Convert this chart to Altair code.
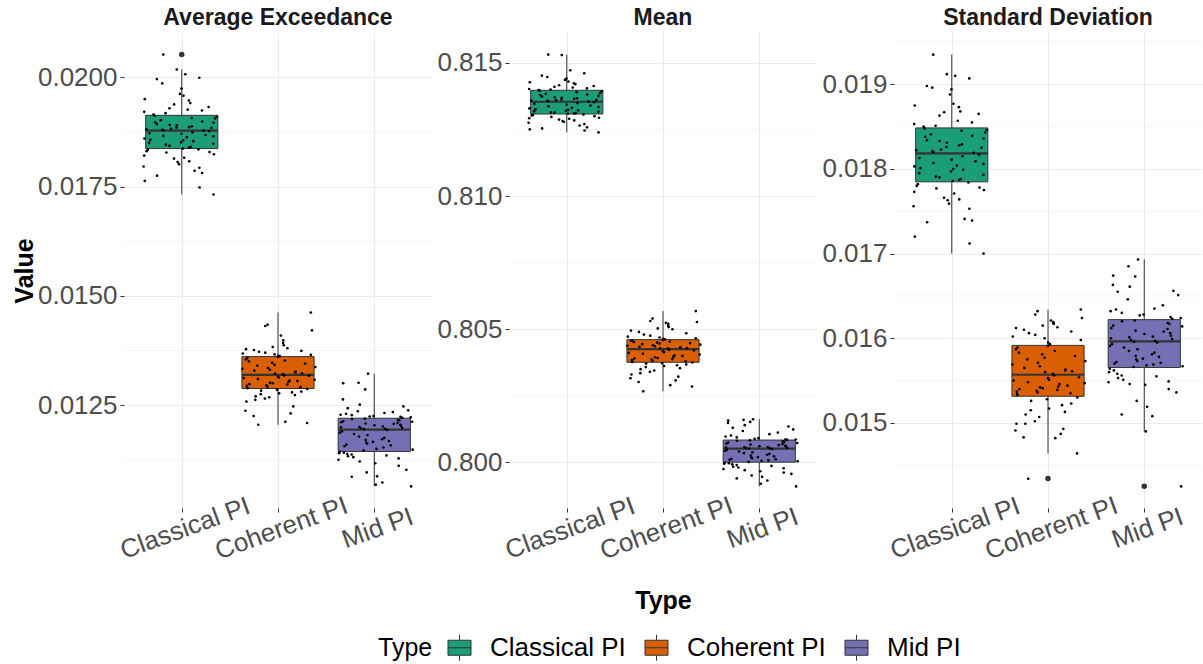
import altair as alt
import pandas as pd

TYPES = ["Classical PI", "Coherent PI", "Mid PI"]
COLORS = ["#1B9E77", "#D95F02", "#7570B3"]
FONT = "Liberation Sans"

# ---------------- Average Exceedance ----------------
AE_LOWER = [0.01732, 0.01205, 0.01064]
AE_Q1 = [0.01837, 0.01288, 0.01144]
AE_MED = [0.01878, 0.01319, 0.01194]
AE_Q3 = [0.01913, 0.01361, 0.01220]
AE_UPPER = [0.02018, 0.01462, 0.01322]
AE_OUTLIERS = [[0.02052], [], []]
AE_CL = [0.02052, 0.02018, 0.02007, 0.01999, 0.01996, 0.01986, 0.01974, 0.01962, 0.01958, 0.01950,
         0.01947, 0.01941, 0.01938, 0.01932, 0.01929, 0.01926, 0.01924, 0.01921, 0.01918, 0.01915,
         0.01912, 0.01910, 0.01907, 0.01906, 0.01902, 0.01899, 0.01897, 0.01896, 0.01893, 0.01891,
         0.01890, 0.01888, 0.01886, 0.01885, 0.01884, 0.01882, 0.01881, 0.01880, 0.01879, 0.01878,
         0.01877, 0.01874, 0.01872, 0.01871, 0.01868, 0.01866, 0.01865, 0.01863, 0.01860, 0.01857,
         0.01856, 0.01854, 0.01851, 0.01850, 0.01848, 0.01846, 0.01843, 0.01841, 0.01839, 0.01837,
         0.01835, 0.01834, 0.01831, 0.01829, 0.01828, 0.01824, 0.01821, 0.01816, 0.01814, 0.01808,
         0.01806, 0.01801, 0.01796, 0.01793, 0.01786, 0.01781, 0.01775, 0.01763, 0.01748, 0.01732]
AE_CO = [0.01462, 0.01434, 0.01431, 0.01421, 0.01409, 0.01398, 0.01392, 0.01387, 0.01383, 0.01380,
         0.01378, 0.01376, 0.01374, 0.01372, 0.01370, 0.01368, 0.01366, 0.01365, 0.01363, 0.01362,
         0.01360, 0.01358, 0.01355, 0.01352, 0.01350, 0.01347, 0.01345, 0.01342, 0.01340, 0.01337,
         0.01335, 0.01333, 0.01331, 0.01329, 0.01327, 0.01325, 0.01323, 0.01322, 0.01321, 0.01319,
         0.01318, 0.01317, 0.01315, 0.01313, 0.01312, 0.01310, 0.01308, 0.01306, 0.01305, 0.01303,
         0.01301, 0.01300, 0.01298, 0.01297, 0.01295, 0.01294, 0.01292, 0.01291, 0.01290, 0.01289,
         0.01287, 0.01285, 0.01283, 0.01281, 0.01279, 0.01277, 0.01275, 0.01273, 0.01270, 0.01268,
         0.01265, 0.01262, 0.01258, 0.01247, 0.01237, 0.01231, 0.01225, 0.01212, 0.01209, 0.01205]
AE_MI = [0.01322, 0.01301, 0.01300, 0.01286, 0.01263, 0.01251, 0.01247, 0.01243, 0.01238, 0.01236,
         0.01234, 0.01232, 0.01230, 0.01228, 0.01227, 0.01225, 0.01224, 0.01223, 0.01222, 0.01221,
         0.01219, 0.01218, 0.01216, 0.01215, 0.01213, 0.01212, 0.01211, 0.01209, 0.01208, 0.01207,
         0.01205, 0.01204, 0.01203, 0.01201, 0.01200, 0.01199, 0.01198, 0.01197, 0.01196, 0.01195,
         0.01193, 0.01190, 0.01187, 0.01184, 0.01181, 0.01178, 0.01175, 0.01172, 0.01170, 0.01168,
         0.01166, 0.01164, 0.01162, 0.01160, 0.01158, 0.01156, 0.01153, 0.01150, 0.01148, 0.01146,
         0.01143, 0.01141, 0.01140, 0.01138, 0.01137, 0.01135, 0.01133, 0.01131, 0.01128, 0.01125,
         0.01121, 0.01117, 0.01111, 0.01102, 0.01096, 0.01087, 0.01086, 0.01073, 0.01068, 0.01064]
AE_MAJOR = [0.0125, 0.015, 0.0175, 0.02]
AE_MINOR = [0.01125, 0.01375, 0.01625, 0.01875]

# ---------------- Mean ----------------
MN_LOWER = [0.81239, 0.80267, 0.79910]
MN_Q1 = [0.81308, 0.80376, 0.80001]
MN_MED = [0.81354, 0.80425, 0.80052]
MN_Q3 = [0.81397, 0.80461, 0.80084]
MN_UPPER = [0.81531, 0.80568, 0.80162]
MN_OUTLIERS = [[], [], []]
MN_CL = [0.81531, 0.81529, 0.81472, 0.81461, 0.81452, 0.81447, 0.81441, 0.81436, 0.81430, 0.81427,
         0.81423, 0.81420, 0.81416, 0.81413, 0.81410, 0.81407, 0.81404, 0.81402, 0.81400, 0.81398,
         0.81396, 0.81393, 0.81390, 0.81387, 0.81384, 0.81381, 0.81379, 0.81376, 0.81373, 0.81371,
         0.81369, 0.81367, 0.81365, 0.81363, 0.81361, 0.81360, 0.81358, 0.81357, 0.81356, 0.81355,
         0.81352, 0.81349, 0.81346, 0.81343, 0.81340, 0.81337, 0.81334, 0.81331, 0.81329, 0.81326,
         0.81324, 0.81322, 0.81320, 0.81318, 0.81316, 0.81314, 0.81313, 0.81311, 0.81310, 0.81309,
         0.81306, 0.81304, 0.81302, 0.81300, 0.81297, 0.81294, 0.81292, 0.81290, 0.81287, 0.81284,
         0.81281, 0.81278, 0.81275, 0.81270, 0.81265, 0.81258, 0.81254, 0.81250, 0.81246, 0.81239]
MN_CO = [0.80568, 0.80540, 0.80531, 0.80527, 0.80524, 0.80520, 0.80512, 0.80508, 0.80503, 0.80500,
         0.80495, 0.80490, 0.80485, 0.80480, 0.80476, 0.80472, 0.80469, 0.80466, 0.80464, 0.80462,
         0.80460, 0.80458, 0.80456, 0.80454, 0.80452, 0.80450, 0.80448, 0.80446, 0.80444, 0.80442,
         0.80440, 0.80438, 0.80436, 0.80434, 0.80432, 0.80431, 0.80429, 0.80428, 0.80427, 0.80426,
         0.80423, 0.80420, 0.80417, 0.80414, 0.80411, 0.80408, 0.80405, 0.80402, 0.80400, 0.80397,
         0.80395, 0.80392, 0.80390, 0.80388, 0.80386, 0.80384, 0.80382, 0.80380, 0.80379, 0.80377,
         0.80375, 0.80373, 0.80371, 0.80368, 0.80365, 0.80362, 0.80358, 0.80354, 0.80350, 0.80345,
         0.80340, 0.80335, 0.80330, 0.80322, 0.80316, 0.80308, 0.80302, 0.80290, 0.80285, 0.80267]
MN_MI = [0.80162, 0.80160, 0.80157, 0.80152, 0.80148, 0.80140, 0.80135, 0.80130, 0.80124, 0.80118,
         0.80112, 0.80106, 0.80101, 0.80097, 0.80094, 0.80091, 0.80089, 0.80087, 0.80086, 0.80085,
         0.80083, 0.80081, 0.80079, 0.80077, 0.80075, 0.80073, 0.80071, 0.80069, 0.80067, 0.80065,
         0.80063, 0.80061, 0.80060, 0.80058, 0.80057, 0.80056, 0.80055, 0.80054, 0.80053, 0.80052,
         0.80050, 0.80047, 0.80044, 0.80041, 0.80038, 0.80035, 0.80032, 0.80029, 0.80026, 0.80023,
         0.80020, 0.80018, 0.80016, 0.80014, 0.80012, 0.80010, 0.80008, 0.80006, 0.80004, 0.80002,
         0.79999, 0.79997, 0.79995, 0.79993, 0.79990, 0.79987, 0.79984, 0.79981, 0.79978, 0.79975,
         0.79971, 0.79967, 0.79962, 0.79957, 0.79951, 0.79946, 0.79940, 0.79932, 0.79920, 0.79910]
MN_MAJOR = [0.8, 0.805, 0.81, 0.815]
MN_MINOR = [0.8025, 0.8075, 0.8125]

# ---------------- Standard Deviation ----------------
SD_LOWER = [0.01700, 0.014636, 0.014902]
SD_Q1 = [0.017848, 0.015315, 0.015655]
SD_MED = [0.018184, 0.015569, 0.015963]
SD_Q3 = [0.018485, 0.015916, 0.016220]
SD_UPPER = [0.019351, 0.016337, 0.016931]
SD_OUTLIERS = [[], [0.014343], [0.014253]]
SD_CL = [0.01935, 0.01912, 0.01910, 0.01907, 0.01898, 0.01896, 0.01894, 0.01888, 0.01877, 0.01875,
         0.01873, 0.01868, 0.01867, 0.01865, 0.01863, 0.01857, 0.01855, 0.01853, 0.01851, 0.01850,
         0.01848, 0.01846, 0.01845, 0.01843, 0.01841, 0.01839, 0.01838, 0.01836, 0.01834, 0.01833,
         0.01831, 0.01829, 0.01828, 0.01826, 0.01825, 0.01823, 0.01822, 0.01821, 0.01820, 0.01819,
         0.01817, 0.01815, 0.01813, 0.01811, 0.01809, 0.01807, 0.01806, 0.01804, 0.01803, 0.01801,
         0.01800, 0.01799, 0.01797, 0.01795, 0.01793, 0.01791, 0.01790, 0.01788, 0.01787, 0.01786,
         0.01784, 0.01782, 0.01780, 0.01778, 0.01777, 0.01775, 0.01773, 0.01771, 0.01766, 0.01764,
         0.01763, 0.01759, 0.01756, 0.01753, 0.01741, 0.01739, 0.01737, 0.01720, 0.01712, 0.01700]
SD_CO = [0.01634, 0.01632, 0.01628, 0.01624, 0.01621, 0.01619, 0.01618, 0.01617, 0.01615, 0.01613,
         0.01612, 0.01610, 0.01608, 0.01606, 0.01604, 0.01602, 0.01600, 0.01598, 0.01595, 0.01593,
         0.01591, 0.01589, 0.01587, 0.01585, 0.01583, 0.01581, 0.01579, 0.01577, 0.01575, 0.01573,
         0.01571, 0.01569, 0.01567, 0.01565, 0.01563, 0.01562, 0.01561, 0.01560, 0.01558, 0.01557,
         0.01556, 0.01554, 0.01553, 0.01551, 0.01550, 0.01548, 0.01547, 0.01546, 0.01544, 0.01543,
         0.01542, 0.01541, 0.01540, 0.01539, 0.01538, 0.01537, 0.01536, 0.01535, 0.01534, 0.01533,
         0.01530, 0.01528, 0.01526, 0.01523, 0.01521, 0.01517, 0.01515, 0.01513, 0.01510, 0.01507,
         0.01502, 0.01499, 0.01499, 0.01493, 0.01491, 0.01487, 0.01483, 0.01482, 0.01464, 0.01434]
SD_MI = [0.01693, 0.01685, 0.01674, 0.01673, 0.01663, 0.01661, 0.01656, 0.01655, 0.01651, 0.01646,
         0.01639, 0.01635, 0.01634, 0.01632, 0.01630, 0.01628, 0.01627, 0.01625, 0.01624, 0.01623,
         0.01621, 0.01620, 0.01618, 0.01617, 0.01615, 0.01614, 0.01612, 0.01611, 0.01609, 0.01608,
         0.01606, 0.01605, 0.01603, 0.01602, 0.01601, 0.01600, 0.01599, 0.01598, 0.01597, 0.01596,
         0.01595, 0.01593, 0.01591, 0.01589, 0.01587, 0.01585, 0.01583, 0.01581, 0.01579, 0.01578,
         0.01576, 0.01575, 0.01573, 0.01572, 0.01571, 0.01570, 0.01569, 0.01568, 0.01567, 0.01566,
         0.01564, 0.01562, 0.01560, 0.01558, 0.01556, 0.01555, 0.01553, 0.01551, 0.01549, 0.01548,
         0.01546, 0.01545, 0.01540, 0.01536, 0.01526, 0.01519, 0.01510, 0.01508, 0.01490, 0.01425]
SD_MAJOR = [0.015, 0.016, 0.017, 0.018, 0.019]
SD_MINOR = [0.0145, 0.0155, 0.0165, 0.0175, 0.0185, 0.0195]

PANEL_W = 308
PANEL_H = 475
GRID = "#EBEBEB"
TICK = "#333333"
LABEL = "#4D4D4D"

LEGEND_SYMBOL = ("M-0.885,-0.577H0.885V0.577H-0.885Z M-0.885,0H0.885 "
                 "M0,-0.577V-1 M0,0.577V1")


def make_panel(title, pts, lower, q1, med, q3, upper, outliers, majors, minors, fmt,
               ytitle, xtitle):
    rows = []
    for k, vals in enumerate(pts):
        for i, v in enumerate(vals):
            rows.append({"type": TYPES[k], "idx": k + 1, "i": i, "value": v})
    pdf = pd.DataFrame(rows)
    orows = [{"type": TYPES[k], "idx": k + 1, "value": o}
             for k in range(3) for o in outliers[k]]
    odf = pd.DataFrame(orows, columns=["type", "idx", "value"])
    bdf = pd.DataFrame({"type": TYPES, "idx": [1, 2, 3], "lower": lower, "q1": q1,
                        "med": med, "q3": q3, "upper": upper})
    mdf = pd.DataFrame({"v": minors})
    tdf = pd.DataFrame({"t": [title]})

    allv = list(pdf["value"]) + lower + upper + [o for os in outliers for o in os]
    lo, hi = min(allv), max(allv)
    r = hi - lo
    ys = alt.Scale(domain=[lo - 0.05 * r, hi + 0.05 * r], nice=False, zero=False)
    xs = alt.Scale(domain=[0.4, 3.6], nice=False, zero=False)

    yaxis_kw = dict(
        values=majors, format=fmt,
        grid=True, gridColor=GRID, gridWidth=1.1,
        domain=False, ticks=True, tickSize=4, tickColor=TICK, tickWidth=1,
        labelFont=FONT, labelFontSize=26, labelColor=LABEL, labelPadding=3,
        labelOverlap=False, labelFlush=False,
    )
    if ytitle:
        yaxis_kw.update(title=ytitle, titleFont=FONT, titleFontSize=25,
                        titleFontWeight="bold", titleColor="black",
                        titleAngle=270, titleAlign="center", titleBaseline="middle",
                        titleX=-100, titleY=PANEL_H / 2)
    else:
        yaxis_kw.update(title=None)
    yaxis = alt.Axis(**yaxis_kw)

    xaxis_kw = dict(
        values=[1, 2, 3],
        labelExpr="datum.value == 1 ? 'Classical PI' : datum.value == 2 ? 'Coherent PI' : 'Mid PI'",
        grid=True, gridColor=GRID, gridWidth=1.1,
        domain=False, ticks=True, tickSize=4, tickColor=TICK, tickWidth=1,
        labelFont=FONT, labelFontSize=26, labelColor=LABEL,
        labelAngle=340, labelAlign="center", labelBaseline="middle",
        labelPadding=16, labelOffset=3, labelOverlap=False, labelFlush=False,
        labelBound=False,
    )
    if xtitle:
        xaxis_kw.update(title=xtitle, titleFont=FONT, titleFontSize=25,
                        titleFontWeight="bold", titleColor="black",
                        titleAlign="center", titleBaseline="alphabetic",
                        titleX=PANEL_W / 2, titleY=100)
    else:
        xaxis_kw.update(title=None)
    xaxis = alt.Axis(**xaxis_kw)

    legend = alt.Legend(
        title="Type", orient="none", legendX=254, legendY=601,
        direction="horizontal", titleOrient="left",
        titleFont=FONT, titleFontSize=25, titleFontWeight="normal", titleColor="black",
        titlePadding=13, titleBaseline="middle",
        labelFont=FONT, labelFontSize=26, labelColor="black", labelOffset=17,
        columnPadding=16, symbolType=LEGEND_SYMBOL, symbolSize=676,
        symbolStrokeColor=TICK, symbolStrokeWidth=1, symbolOpacity=1,
    )

    minor_grid = alt.Chart(mdf).mark_rule(color=GRID, strokeWidth=0.55).encode(
        x=alt.value(0), x2=alt.value(PANEL_W),
        y=alt.Y("v:Q", scale=ys, axis=yaxis),
    )
    whisk = alt.Chart(bdf).mark_rule(color=TICK, strokeWidth=1).encode(
        x=alt.X("idx:Q", scale=xs, axis=xaxis),
        y=alt.Y("lower:Q", scale=ys, axis=yaxis),
        y2="upper:Q",
    )
    box = alt.Chart(bdf).transform_calculate(
        x1="datum.idx - 0.375", x2="datum.idx + 0.375"
    ).mark_bar(stroke=TICK, strokeWidth=1, opacity=1).encode(
        x=alt.X("x1:Q", scale=xs, axis=xaxis),
        x2="x2:Q",
        y=alt.Y("q1:Q", scale=ys, axis=yaxis),
        y2="q3:Q",
        color=alt.Color("type:N", scale=alt.Scale(domain=TYPES, range=COLORS), legend=legend),
    )
    median = alt.Chart(bdf).transform_calculate(
        x1="datum.idx - 0.375", x2="datum.idx + 0.375"
    ).mark_rule(color=TICK, strokeWidth=2.2).encode(
        x=alt.X("x1:Q", scale=xs, axis=xaxis),
        x2="x2:Q",
        y=alt.Y("med:Q", scale=ys, axis=yaxis),
    )
    outl = alt.Chart(odf).mark_circle(size=30, color=TICK, opacity=1).encode(
        x=alt.X("idx:Q", scale=xs, axis=xaxis),
        y=alt.Y("value:Q", scale=ys, axis=yaxis),
    )
    points = alt.Chart(pdf).transform_calculate(
        xj="datum.idx + ((abs(sin((datum.i + 1) * 12.9898 + datum.idx * 78.233)) * 43758.5453) % 1 - 0.5) * 0.8"
    ).mark_circle(size=7, color="black", opacity=1).encode(
        x=alt.X("xj:Q", scale=xs, axis=xaxis),
        y=alt.Y("value:Q", scale=ys, axis=yaxis),
    )
    head = alt.Chart(tdf).mark_text(
        font=FONT, fontSize=23, fontWeight="bold", color="#1A1A1A",
        align="center", baseline="alphabetic",
    ).encode(x=alt.value(PANEL_W / 2), y=alt.value(-8), text="t:N")
    return alt.layer(minor_grid, whisk, box, median, outl, points, head).properties(
        width=PANEL_W, height=PANEL_H,
    )


p1 = make_panel("Average Exceedance", [AE_CL, AE_CO, AE_MI], AE_LOWER, AE_Q1, AE_MED,
                AE_Q3, AE_UPPER, AE_OUTLIERS, AE_MAJOR, AE_MINOR, ".4f", "Value", None)
p2 = make_panel("Mean", [MN_CL, MN_CO, MN_MI], MN_LOWER, MN_Q1, MN_MED,
                MN_Q3, MN_UPPER, MN_OUTLIERS, MN_MAJOR, MN_MINOR, ".3f", None, "Type")
p3 = make_panel("Standard Deviation", [SD_CL, SD_CO, SD_MI], SD_LOWER, SD_Q1, SD_MED,
                SD_Q3, SD_UPPER, SD_OUTLIERS, SD_MAJOR, SD_MINOR, ".3f", None, None)

chart = alt.hconcat(p1, p2, p3, spacing=77, bounds="flush").resolve_scale(
    color="shared"
).properties(
    padding={"left": 12, "top": 7, "right": 0, "bottom": 0},
    background="white",
).configure_view(stroke=None)

chart.save("out.html", embed_options={"renderer": "svg", "actions": False})
